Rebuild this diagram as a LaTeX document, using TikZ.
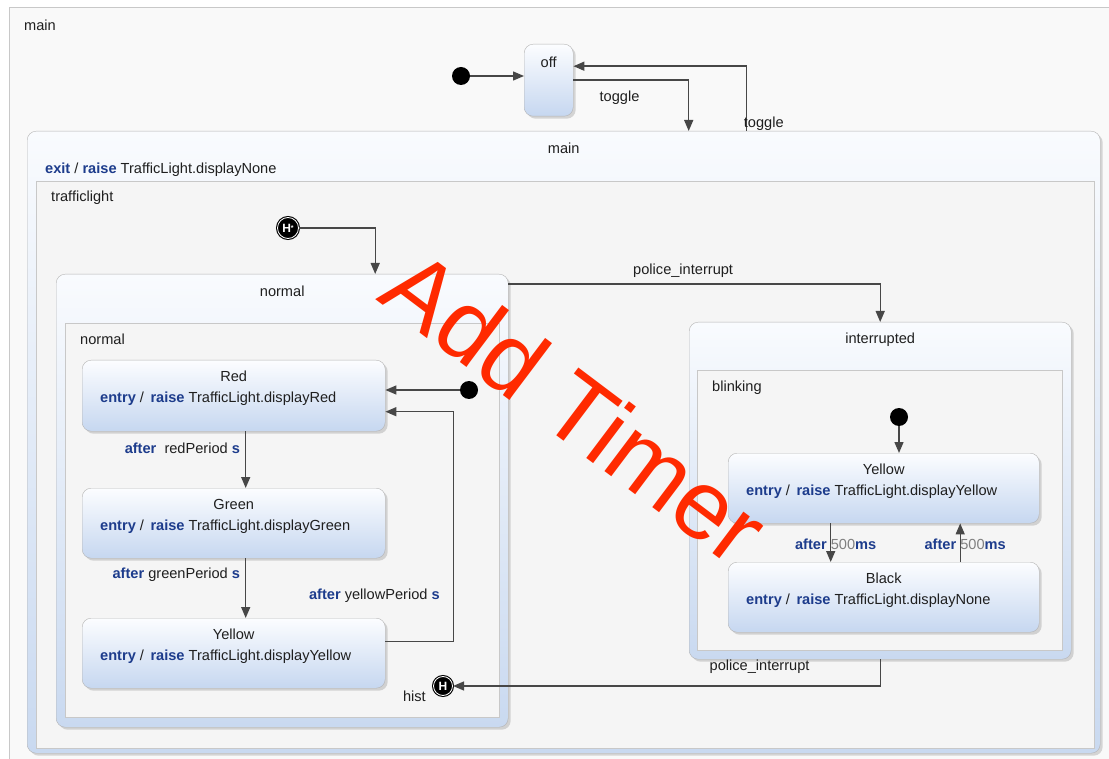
\documentclass[tikz,border=0pt]{standalone}
\usepackage{fontspec}
\setmainfont{Liberation Sans}
\usepackage{xcolor}
\usetikzlibrary{arrows.meta,positioning,shadows}

\definecolor{kwblue}{HTML}{1D3C8C}
\definecolor{txtdark}{HTML}{1F1F1F}
\definecolor{linegray}{HTML}{474747}
\definecolor{boxgray}{HTML}{B4B4B4}
\definecolor{regiongray}{HTML}{C8C8C8}
\definecolor{regionbg}{HTML}{F5F5F5}
\definecolor{outerbg}{HTML}{F9F9F9}
\definecolor{statetop}{HTML}{FCFDFF}
\definecolor{statebot}{HTML}{C6D7F0}
\definecolor{comptop}{HTML}{F9FBFE}
\definecolor{compbot}{HTML}{C9D9F0}
\definecolor{stampred}{HTML}{FF2A00}

\newcommand{\kw}[1]{\textcolor{kwblue}{\bfseries #1}}

\begin{document}
\begin{tikzpicture}[x=1pt, y=-1pt,
  font=\fontsize{14.6}{16}\selectfont,
  every node/.style={inner sep=0pt, text=txtdark},
  region/.style={draw=regiongray, fill=regionbg, anchor=north west},
  regionlbl/.style={anchor=north west, xshift=15pt, yshift=-11pt},
  composite/.style={draw=boxgray, rounded corners=9pt, top color=comptop,
    bottom color=compbot, anchor=north west,
    drop shadow={shadow xshift=2.5pt, shadow yshift=-2.5pt, opacity=.3}},
  simple/.style={draw=boxgray, rounded corners=9pt, top color=statetop,
    bottom color=statebot, anchor=north west,
    drop shadow={shadow xshift=2.5pt, shadow yshift=-2.5pt, opacity=.3}},
  title/.style={anchor=north, yshift=-11pt},
  action/.style={anchor=north west, xshift=18pt, yshift=-32pt},
  initial/.style={circle, fill=black, minimum size=18pt},
  history/.style={circle, fill=black, draw=black, double=white,
    double distance=.8pt, line width=1.1pt, minimum size=19pt, text=white,
    font=\fontsize{12}{12}\selectfont\bfseries},
  trans/.style={draw=linegray, line width=1.4pt,
    -{Triangle[length=11pt, width=9pt]}}]

  \useasboundingbox (0,0) rectangle (1109,759);

  % regions and states
  \node[region, fill=outerbg, minimum width=1110, minimum height=760,
    label={[regionlbl, yshift=-2pt]north west:main}] (toplevel) at (9,7) {};
  \node[simple, minimum width=49, minimum height=72,
    label={[title, yshift=-2pt]north:off}] (off) at (524,44) {};

  \node[composite, minimum width=1073, minimum height=622,
    label={[title, yshift=-1pt]north:main},
    label={[action]north west:\kw{exit} / \kw{raise} TrafficLight.displayNone}]
    (mainstate) at (27,131) {};
  \node[region, minimum width=1058, minimum height=567,
    label={[regionlbl, yshift=1pt]north west:trafficlight}] (tlregion) at (36,181) {};

  \node[composite, minimum width=452, minimum height=453,
    label={[title, yshift=-1pt]north:normal}] (normalstate) at (56,274) {};
  \node[region, minimum width=434, minimum height=394,
    label={[regionlbl]north west:normal}] (normalregion) at (65,323) {};

  \node[simple, minimum width=303, minimum height=71,
    label={[title]north:Red},
    label={[action]north west:\kw{entry} /\, \kw{raise} TrafficLight.displayRed}]
    (red) at (82,360) {};
  \node[simple, minimum width=303, minimum height=70,
    label={[title]north:Green},
    label={[action]north west:\kw{entry} /\, \kw{raise} TrafficLight.displayGreen}]
    (green) at (82,488) {};
  \node[simple, minimum width=303, minimum height=70,
    label={[title]north:Yellow},
    label={[action]north west:\kw{entry} /\, \kw{raise} TrafficLight.displayYellow}]
    (yellow) at (82,618) {};

  \node[composite, minimum width=382, minimum height=337,
    label={[title]north:interrupted}] (interrupted) at (689,322) {};
  \node[region, minimum width=365, minimum height=280,
    label={[regionlbl]north west:blinking}] (blinkregion) at (697,370) {};

  \node[simple, minimum width=311, minimum height=70,
    label={[title]north:Yellow},
    label={[action]north west:\kw{entry} /\, \kw{raise} TrafficLight.displayYellow}]
    (ylw) at (728,453) {};
  \node[simple, minimum width=311, minimum height=70,
    label={[title]north:Black},
    label={[action]north west:\kw{entry} /\, \kw{raise} TrafficLight.displayNone}]
    (blk) at (728,562) {};

  % pseudo states
  \node[initial] (init0) at (461,76) {};
  \node[initial] (init1) at (469,390) {};
  \node[initial] (init2) at (899,417) {};
  \node[history, minimum size=21pt] (dhist) at (288,228)
    {H\raisebox{2pt}{\fontsize{7}{7}\selectfont *}};
  \node[history, label={[anchor=east, xshift=-7pt, yshift=-10pt]west:hist}]
    (hist) at (443,686) {H};

  % transitions
  \draw[trans] (init0) -- (init0 -| off.west);
  \draw[trans] (off.east) -| node[pos=.2, below=10pt] {toggle}
    ([xshift=125pt]mainstate.north);
  \draw[trans] ([xshift=182.5pt]mainstate.north) |-
    node[pos=0, anchor=south west, xshift=-3pt] {toggle} ([yshift=14pt]off.east);

  \draw[trans] (dhist) -| ([xshift=93pt]normalstate.north);
  \draw[trans] ([yshift=-10pt]normalstate.north east) -|
    node[pos=.235, above=6pt] {police\_interrupt} (interrupted.north);
  \draw[trans] (interrupted.south) |-
    node[pos=.13, left=70pt] {police\_interrupt} (hist);

  \draw[trans] (init1) -- (init1 -| red.east);
  \draw[trans] ([xshift=12pt]red.south) --
    node[pos=.3, left=5pt] {\kw{after}~ redPeriod \kw{s}} ([xshift=12pt]green.north);
  \draw[trans] ([xshift=12pt]green.south) --
    node[pos=.28, left=5pt] {\kw{after} greenPeriod \kw{s}} ([xshift=12pt]yellow.north);
  \draw[trans] ([yshift=12pt]yellow.east) -- ++(68,0) |-
    node[pos=.1, left=13pt] {\kw{after} yellowPeriod \kw{s}} ([yshift=-16pt]red.east);

  \draw[trans] (init2) -- (init2 |- ylw.north);
  \draw[trans] ([xshift=-53pt]ylw.south) --
    node[pos=.55, xshift=5pt] {\kw{after} \textcolor{gray}{500}\kw{ms}} ([xshift=-53pt]blk.north);
  \draw[trans] ([xshift=76.5pt]blk.north) --
    node[pos=.45, xshift=5pt] {\kw{after} \textcolor{gray}{500}\kw{ms}} ([xshift=76.5pt]ylw.south);

  % stamp
  \node[rotate=-37, text=stampred, font=\fontsize{98}{98}\selectfont]
    (stamp) at (576,406) {Add Timer};
\end{tikzpicture}
\end{document}
